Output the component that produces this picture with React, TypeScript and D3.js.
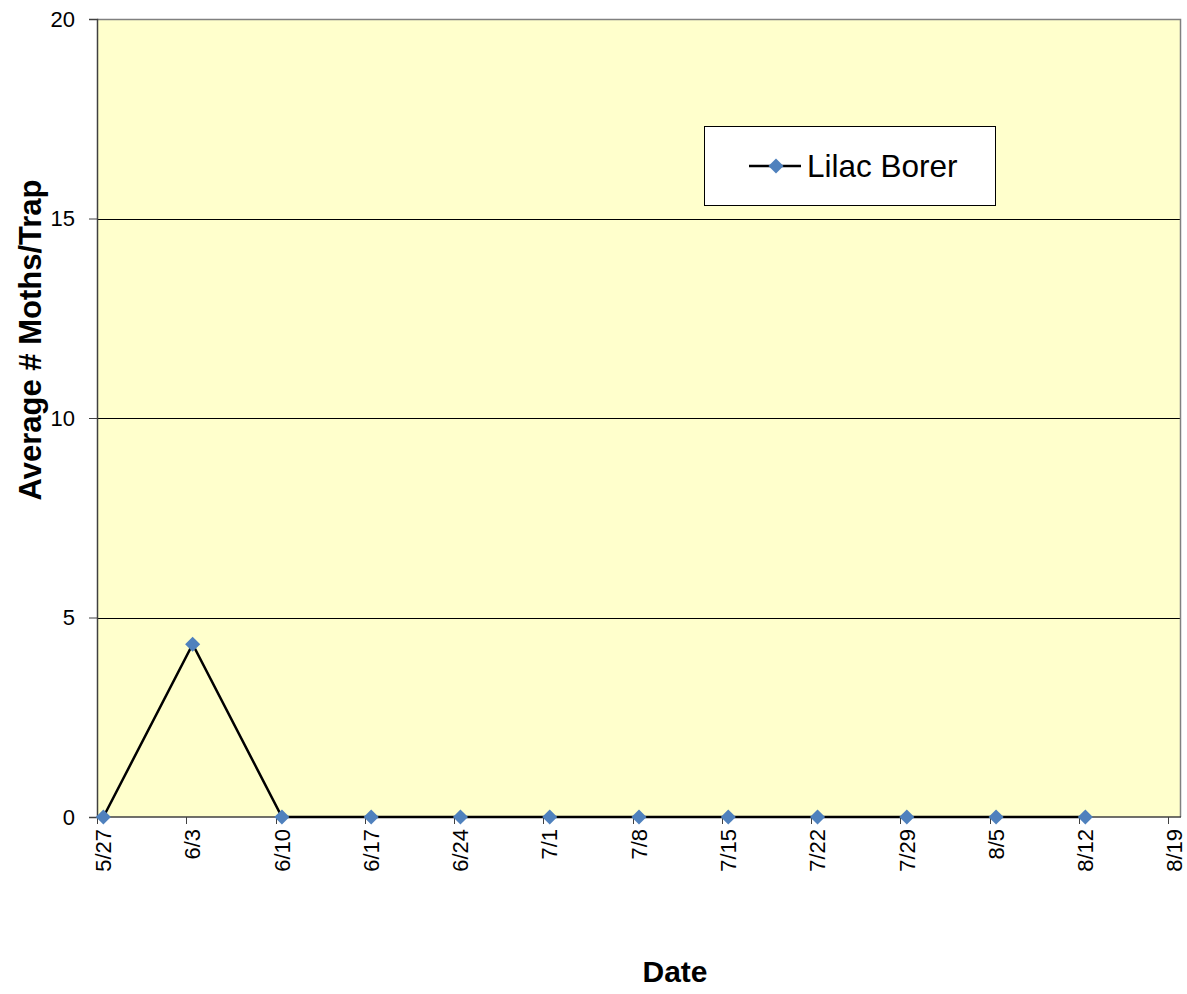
import * as d3 from 'd3';
import React, { useEffect, useRef } from 'react';

const WIDTH = 1187;
const HEIGHT = 994;
const FONT = "Arial, 'Liberation Sans', sans-serif";

// axis dates (one per week) and the series
const DATE_LABELS = ['5/27', '6/3', '6/10', '6/17', '6/24', '7/1', '7/8', '7/15', '7/22', '7/29', '8/5', '8/12', '8/19'];
const SERIES_DATES = ['5/27', '6/3', '6/10', '6/17', '6/24', '7/1', '7/8', '7/15', '7/22', '7/29', '8/5', '8/12'];
const LILAC_BORER = [0, 4.33, 0, 0, 0, 0, 0, 0, 0, 0, 0, 0];
const Y_TICKS = [0, 5, 10, 15, 20];
const SERIES_NAME = 'Lilac Borer';

const margin = { top: 19, right: 6, bottom: 177, left: 97 };
const plotW = WIDTH - margin.left - margin.right;
const plotH = HEIGHT - margin.top - margin.bottom;

const toDate = (s: string) => {
  const [m, d] = s.split('/').map(Number);
  return new Date(Date.UTC(2009, m - 1, d));
};
const HALF_DAY = 12 * 3600 * 1000;

const App: React.FC = () => {
  const ref = useRef<SVGSVGElement>(null);

  useEffect(() => {
    const svg = d3.select(ref.current);
    svg.selectAll('*').remove();

    const first = toDate(DATE_LABELS[0]);
    const last = toDate(DATE_LABELS[DATE_LABELS.length - 1]);
    const x = d3
      .scaleUtc()
      .domain([new Date(+first - HALF_DAY), new Date(+last + HALF_DAY)])
      .range([0, plotW]);
    const y = d3.scaleLinear().domain([0, 20]).range([plotH, 0]);

    const g = svg.append('g').attr('transform', `translate(${margin.left},${margin.top})`);

    g.append('rect').attr('width', plotW).attr('height', plotH).attr('fill', '#FFFFCC');

    // gridlines
    g.selectAll('.grid')
      .data(Y_TICKS.filter(t => t > 0 && t < 20))
      .enter()
      .append('line')
      .attr('x1', 0)
      .attr('x2', plotW)
      .attr('y1', d => Math.round(y(d)) + 0.5)
      .attr('y2', d => Math.round(y(d)) + 0.5)
      .attr('stroke', '#000')
      .attr('stroke-width', 1);

    // border (top/right grey)
    g.append('path')
      .attr('d', `M0,0.5H${plotW - 0.5}V${plotH}`)
      .attr('fill', 'none')
      .attr('stroke', '#808080')
      .attr('stroke-width', 1.5);

    // y axis
    const yAxis = g
      .append('g')
      .call(d3.axisLeft(y).tickValues(Y_TICKS).tickSize(8).tickPadding(14).tickFormat(d3.format('d')));
    yAxis.select('.domain').attr('stroke', '#404040').attr('stroke-width', 1.5);
    yAxis.selectAll('line').attr('stroke', '#404040');
    yAxis.selectAll('text').style('font-family', FONT).style('font-size', '22px').attr('fill', '#000');

    // x axis: tick marks sit half a day before each date, labels centred on the date
    const xAxis = g.append('g').attr('transform', `translate(0,${plotH})`);
    xAxis
      .append('line')
      .attr('x1', 0)
      .attr('x2', plotW)
      .attr('y1', 0)
      .attr('y2', 0)
      .attr('stroke', '#404040')
      .attr('stroke-width', 1.5);
    xAxis
      .selectAll('.tick')
      .data(DATE_LABELS)
      .enter()
      .append('line')
      .attr('x1', d => Math.round(x(new Date(+toDate(d) - HALF_DAY))) + 0.5)
      .attr('x2', d => Math.round(x(new Date(+toDate(d) - HALF_DAY))) + 0.5)
      .attr('y1', 0)
      .attr('y2', 7)
      .attr('stroke', '#404040');
    xAxis
      .selectAll('.lbl')
      .data(DATE_LABELS)
      .enter()
      .append('text')
      .attr('transform', d => `translate(${x(toDate(d))},12) rotate(-90)`)
      .attr('dy', '0.35em')
      .attr('text-anchor', 'end')
      .style('font-family', FONT)
      .style('font-size', '22px')
      .text(d => d);

    // series
    const points = SERIES_DATES.map((d, i) => ({ date: toDate(d), value: LILAC_BORER[i] }));
    const line = d3
      .line<{ date: Date; value: number }>()
      .x(d => x(d.date))
      .y(d => y(d.value));
    g.append('path').datum(points).attr('d', line).attr('fill', 'none').attr('stroke', '#000').attr('stroke-width', 2.5);

    const diamond = d3.symbol().type(d3.symbolDiamond2).size(145);
    g.selectAll('.pt')
      .data(points)
      .enter()
      .append('path')
      .attr('d', diamond)
      .attr('transform', d => `translate(${x(d.date)},${y(d.value)})`)
      .attr('fill', '#4F81BD');

    // legend
    const lg = svg.append('g').attr('transform', 'translate(704,126)');
    lg.append('rect').attr('x', 0.5).attr('y', 0.5).attr('width', 291).attr('height', 79).attr('fill', '#fff').attr('stroke', '#000');
    lg.append('line').attr('x1', 45).attr('x2', 97).attr('y1', 40).attr('y2', 40).attr('stroke', '#000').attr('stroke-width', 2.5);
    lg.append('path').attr('d', diamond).attr('transform', 'translate(72,40)').attr('fill', '#4F81BD');
    lg.append('text')
      .attr('x', 103)
      .attr('y', 40)
      .attr('dy', '0.36em')
      .style('font-family', FONT)
      .style('font-size', '31.5px')
      .text(SERIES_NAME);

    // axis titles
    svg
      .append('text')
      .attr('transform', 'translate(41,340) rotate(-90)')
      .attr('text-anchor', 'middle')
      .style('font-family', FONT)
      .style('font-size', '31px')
      .style('font-weight', 'bold')
      .text('Average # Moths/Trap');
    svg
      .append('text')
      .attr('x', 675)
      .attr('y', 982)
      .attr('text-anchor', 'middle')
      .style('font-family', FONT)
      .style('font-size', '30px')
      .style('font-weight', 'bold')
      .text('Date');
  }, []);

  return (
    <svg
      ref={ref}
      width={WIDTH}
      height={HEIGHT}
      style={{ position: 'absolute', left: 0, top: 0, background: '#fff' }}
    />
  );
};

export default App;
